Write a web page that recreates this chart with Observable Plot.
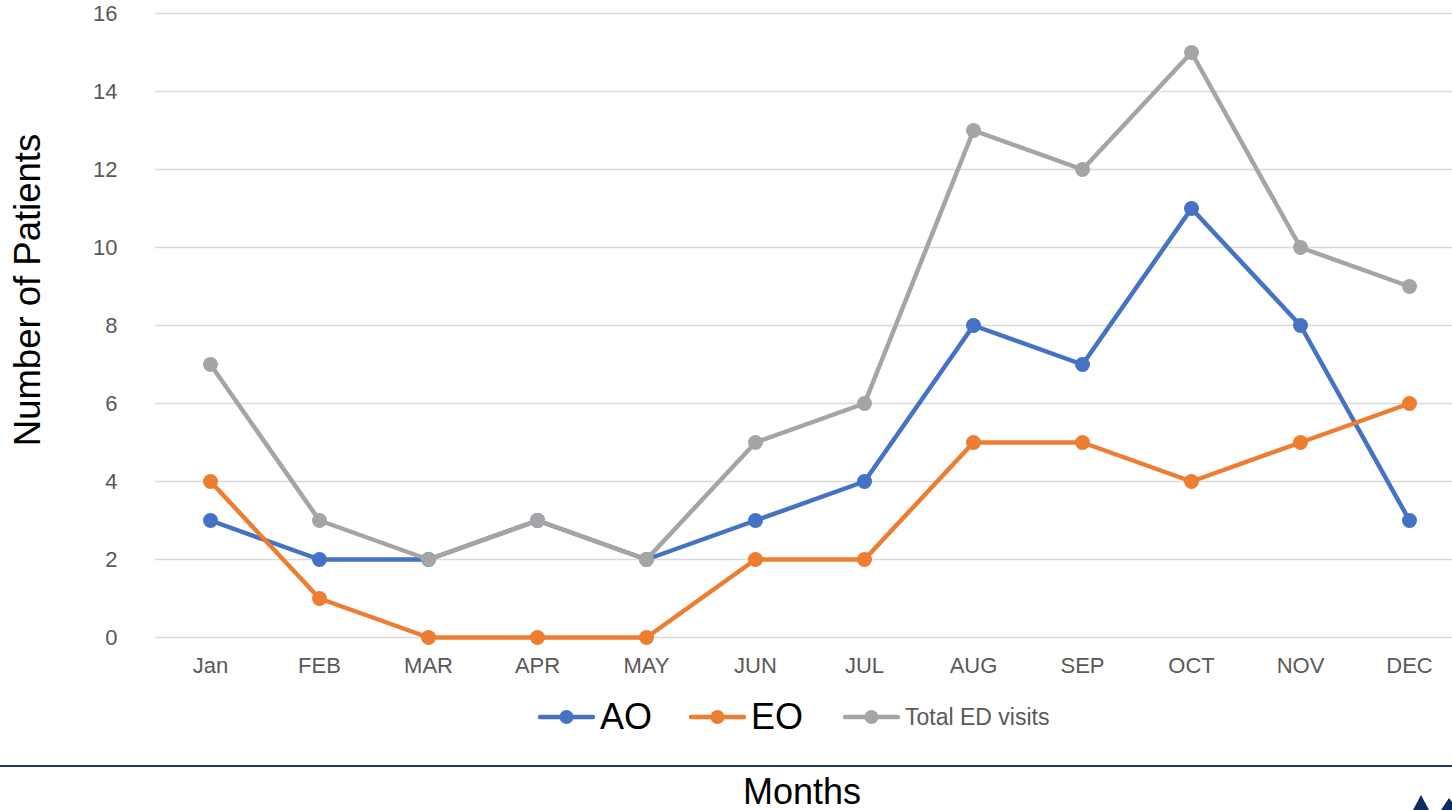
<!DOCTYPE html>
<html>
<head>
<meta charset="utf-8">
<script src="https://cdn.jsdelivr.net/npm/d3@7"></script>
<script src="https://cdn.jsdelivr.net/npm/@observablehq/plot@0.6"></script>
<style>
  html, body { margin: 0; padding: 0; background: #fff; }
  body { width: 1452px; height: 810px; position: relative; overflow: hidden; font-family: "Liberation Sans", Arial, sans-serif; }
  #chart { position: absolute; left: 0; top: 0; }
  #ytitle { position: absolute; left: 28px; top: 290px; transform: translate(-50%, -50%) rotate(-90deg); font-size: 36.5px; color: #000; white-space: nowrap; }
  #legend { position: absolute; left: 538px; top: 697px; height: 40px; display: flex; align-items: center; }
  .item { display: flex; align-items: center; }
  .lab { line-height: 1; }
  #rule { position: absolute; left: 0; top: 765px; width: 1452px; height: 2px; background: #1f3864; }
  #xtitle { position: absolute; left: 802px; top: 792px; transform: translate(-50%, -50%); font-size: 36px; color: #000; white-space: nowrap; }
  #logo { position: absolute; left: 1405px; top: 790px; }
</style>
</head>
<body>
<div id="chart"></div>
<div id="ytitle">Number of Patients</div>
<div id="legend"></div>
<div id="rule"></div>
<div id="xtitle">Months</div>
<svg id="logo" width="47" height="20"><polygon points="8,20 16,5 24,20" fill="#0d2b5e"/><polygon points="36,20 44,8 47,12 47,20" fill="#0d2b5e"/></svg>
<script>
const months = ["Jan","FEB","MAR","APR","MAY","JUN","JUL","AUG","SEP","OCT","NOV","DEC"];
const aoValues = [3,2,2,3,2,3,4,8,7,11,8,3];
const eoValues = [4,1,0,0,0,2,2,5,5,4,5,6];
const totalValues = [7,3,2,3,2,5,6,13,12,15,10,9];
const seriesNames = ["AO","EO","Total ED visits"];
const seriesColors = ["#4472C4","#ED7D31","#A5A5A5"];
const yTicks = [0,2,4,6,8,10,12,14,16];

const seriesValues = [aoValues, eoValues, totalValues];
const series = seriesNames.map((name, k) => ({
  name, color: seriesColors[k],
  data: seriesValues[k].map((v, i) => ({series: name, month: months[i], value: v}))
}));

const plot = Plot.plot({
  width: 1452, height: 690,
  marginLeft: 155, marginRight: 0, marginTop: 13, marginBottom: 53,
  style: {fontFamily: "'Liberation Sans', Arial, sans-serif", color: "#595959", background: "#fff"},
  x: {type: "point", domain: months, range: [155, 1464], padding: 0.5, label: null},
  y: {domain: [0, 16], label: null},
  color: {domain: seriesNames, range: seriesColors},
  marks: [
    Plot.ruleY(yTicks, {stroke: "#d9d9d9", strokeWidth: 1.5}),
    Plot.axisY({ticks: yTicks, tickSize: 0, tickPadding: 38, fontSize: 22, label: null}),
    Plot.axisX({tickSize: 0, tickPadding: 20, fontSize: 22, label: null}),
    ...series.flatMap(s => [
      Plot.line(s.data, {x: "month", y: "value", stroke: s.color, strokeWidth: 4.5, strokeLinejoin: "round", strokeLinecap: "round"}),
      Plot.dot(s.data, {x: "month", y: "value", fill: s.color, r: 7.5})
    ])
  ]
});
document.getElementById("chart").appendChild(plot);

const legend = document.getElementById("legend");
const legendFont = [36, 36, 23];
const legendTextColor = ["#000", "#000", "#595959"];
const gaps = [37, 40, 0];
series.forEach((s, k) => {
  const item = document.createElement("div");
  item.className = "item";
  item.style.marginRight = gaps[k] + "px";
  item.innerHTML = `<svg width="57" height="20" style="margin-right:5px"><line x1="2" y1="10" x2="55" y2="10" stroke="${s.color}" stroke-width="4.5" stroke-linecap="round"/><circle cx="28.5" cy="10" r="7" fill="${s.color}"/></svg><span class="lab" style="font-size:${legendFont[k]}px;color:${legendTextColor[k]}">${s.name}</span>`;
  legend.appendChild(item);
});
</script>
</body>
</html>
